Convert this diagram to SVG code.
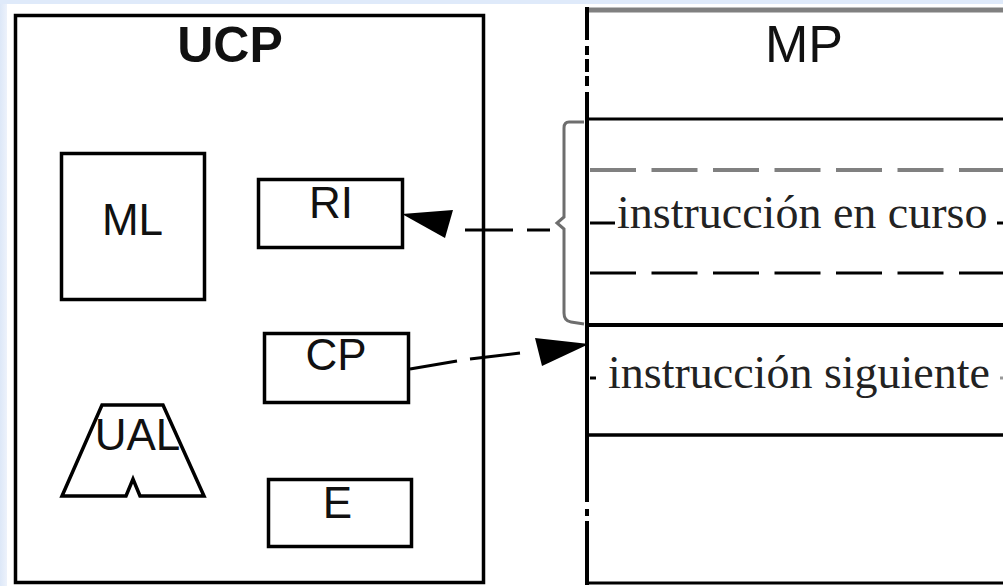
<svg xmlns="http://www.w3.org/2000/svg" width="1003" height="586" viewBox="0 0 1003 586">
<defs>
<style>
.box{fill:#fff;stroke:#000;stroke-width:3.5}
.lbl{font-family:"Liberation Sans",Arial,sans-serif;font-size:44px;fill:#111;text-anchor:middle}
.ser{font-family:"Liberation Serif","Times New Roman",serif;font-size:46px;fill:#222}
.ln{stroke:#000;stroke-width:3;fill:none}
</style>
<linearGradient id="lg" x1="0" y1="0" x2="1" y2="0">
<stop offset="0" stop-color="#dde8f8"/>
<stop offset="1" stop-color="#edf2fb"/>
</linearGradient>
</defs>
<rect x="0" y="0" width="1003" height="586" fill="#fff"/>
<rect x="0" y="0" width="7" height="586" fill="url(#lg)"/>
<rect x="0" y="0" width="1003" height="4" fill="#dfeafa"/>

<g id="UCP">
<rect x="15.5" y="15.5" width="468" height="567" class="box"/>
<text x="230" y="62" class="lbl" style="font-weight:bold;font-size:50px">UCP</text>
</g>

<g id="ML">
<rect x="61.5" y="153.5" width="143" height="146" class="box"/>
<text x="132.5" y="235" class="lbl">ML</text>
</g>

<g id="RI">
<rect x="258.5" y="179.5" width="144" height="68" class="box"/>
<text x="331" y="218" class="lbl">RI</text>
</g>

<g id="CP">
<rect x="264.5" y="333.5" width="144" height="69" class="box"/>
<text x="336" y="370" class="lbl">CP</text>
</g>

<g id="UAL">
<path d="M102,405 L163,405 L204,496 L140,496 L133,479 L126,496 L62,496 Z" fill="#fff" stroke="#000" stroke-width="3.5" stroke-linejoin="miter"/>
<text x="137.5" y="450" class="lbl">UAL</text>
</g>

<g id="E">
<rect x="268.5" y="479.5" width="143" height="67" class="box"/>
<text x="337.5" y="518" class="lbl">E</text>
</g>

<g id="MP">
<line x1="586" y1="10" x2="1003" y2="10" stroke="#808080" stroke-width="5"/>
<path d="M587,7 V40 M587,46 V55 M587,59 V72 M587,76 V86 M587,92 V502 M587,509 V516 M587,521 V585" stroke="#000" stroke-width="4" fill="none"/>
<text x="804" y="62" class="lbl" style="font-size:52px">MP</text>
<line x1="587" y1="119" x2="1003" y2="119" class="ln"/>
<line x1="590" y1="170" x2="1003" y2="170" stroke="#808080" stroke-width="4" stroke-dasharray="46 15.5"/>
<line x1="590" y1="223" x2="615" y2="223" class="ln"/>
<text x="617" y="228" class="ser">instrucción en curso</text>
<line x1="997" y1="223" x2="1003" y2="223" class="ln"/>
<line x1="590" y1="273" x2="1003" y2="273" stroke="#000" stroke-width="3" stroke-dasharray="46 15.5"/>
<line x1="587" y1="325" x2="1003" y2="325" stroke="#000" stroke-width="4"/>
<line x1="590" y1="378" x2="596" y2="378" class="ln"/>
<text x="608" y="388" class="ser">instrucción siguiente</text>
<line x1="1000" y1="378" x2="1003" y2="378" stroke="#999" stroke-width="3"/>
<line x1="587" y1="435" x2="1003" y2="435" stroke="#000" stroke-width="3.5"/>
<line x1="587" y1="583" x2="1003" y2="583" class="ln"/>
<path d="M584,122 L569,122 Q564,122 564,128 L564,217 L557,223 L564,229 L564,313 Q564,321 571,322 L584,324" fill="none" stroke="#6e6e6e" stroke-width="3"/>
</g>

<g id="connectors">
<path d="M465,230 H513 M527,230 H550" class="ln"/>
<polygon points="402,214 453,210 445,238" fill="#000"/>
<path d="M410,369 L457,361 M470,359 L520,353" class="ln"/>
<polygon points="589,344 535,338 542,366" fill="#000"/>
</g>
</svg>
